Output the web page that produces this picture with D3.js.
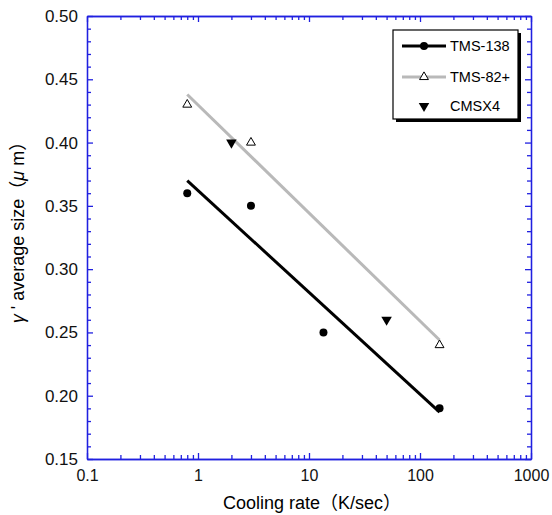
<!DOCTYPE html>
<html>
<head>
  <script src="https://d3js.org/d3.v7.min.js"></script>
  <style>
    body { margin: 0; background: #fff; }
    svg { display: block; }
  </style>
</head>
<body>
  <svg id="chart"></svg>
  <script>
    // data
    var tms138X = [0.8, 3, 13.5, 150];
    var tms138Y = [0.36, 0.35, 0.25, 0.19];
    var tms82X = [0.8, 3, 150];
    var tms82Y = [0.43, 0.40, 0.24];
    var cmsxX = [2, 50];
    var cmsxY = [0.40, 0.26];
    // fitted lines (end points)
    var fit138X = [0.8, 150];
    var fit138Y = [0.370, 0.187];
    var fit82X = [0.8, 150];
    var fit82Y = [0.438, 0.244];

    var xTicks = [0.1, 1, 10, 100, 1000];
    var yTicks = [0.15, 0.20, 0.25, 0.30, 0.35, 0.40, 0.45, 0.50];

    var width = 552, height = 515;
    var margin = { top: 16, right: 21, bottom: 56, left: 87 };
    var axisColor = "#2020e0";
    var latin = "Liberation Sans, Arial, Noto Sans CJK JP, sans-serif";

    var svg = d3.select("#chart")
      .attr("width", width)
      .attr("height", height);

    var x = d3.scaleLog().domain([0.1, 1000]).range([margin.left, width - margin.right]);
    var y = d3.scaleLinear().domain([0.15, 0.50]).range([height - margin.bottom, margin.top]);

    // minor ticks
    var xMinor = [];
    xTicks.slice(0, -1).forEach(function(d) {
      for (var k = 2; k <= 9; k++) xMinor.push(d * k);
    });
    var yMinor = d3.range(15, 51).map(d => d / 100).filter(d => yTicks.indexOf(d) < 0);

    function styleAxis(size) {
      return function(g) {
        g.selectAll("path, line").attr("stroke", axisColor).attr("stroke-width", 1.3);
        g.selectAll("text")
          .attr("fill", "#111")
          .style("font-family", latin)
          .style("font-size", size + "px");
      };
    }

    var x0 = y.range()[0], y0 = x.range()[0];

    // bottom axis
    svg.append("g")
      .attr("transform", "translate(0," + x0 + ")")
      .call(d3.axisBottom(x).tickValues(xTicks).tickFormat(d3.format("")).tickSizeInner(-6).tickSizeOuter(0).tickPadding(11))
      .call(styleAxis(16));
    svg.append("g")
      .attr("transform", "translate(0," + x0 + ")")
      .call(d3.axisBottom(x).tickValues(xMinor).tickFormat("").tickSizeInner(-4).tickSizeOuter(0))
      .call(styleAxis(16));
    // top axis
    svg.append("g")
      .attr("transform", "translate(0," + margin.top + ")")
      .call(d3.axisTop(x).tickValues(xTicks).tickFormat("").tickSizeInner(-6).tickSizeOuter(0))
      .call(styleAxis(16));
    svg.append("g")
      .attr("transform", "translate(0," + margin.top + ")")
      .call(d3.axisTop(x).tickValues(xMinor).tickFormat("").tickSizeInner(-4).tickSizeOuter(0))
      .call(styleAxis(16));
    // left axis
    svg.append("g")
      .attr("transform", "translate(" + y0 + ",0)")
      .call(d3.axisLeft(y).tickValues(yTicks).tickFormat(d3.format(".2f")).tickSizeInner(-6).tickSizeOuter(0).tickPadding(9))
      .call(styleAxis(17));
    svg.append("g")
      .attr("transform", "translate(" + y0 + ",0)")
      .call(d3.axisLeft(y).tickValues(yMinor).tickFormat("").tickSizeInner(-4).tickSizeOuter(0))
      .call(styleAxis(17));
    // right axis
    svg.append("g")
      .attr("transform", "translate(" + x.range()[1] + ",0)")
      .call(d3.axisRight(y).tickValues(yTicks).tickFormat("").tickSizeInner(-6).tickSizeOuter(0))
      .call(styleAxis(16));
    svg.append("g")
      .attr("transform", "translate(" + x.range()[1] + ",0)")
      .call(d3.axisRight(y).tickValues(yMinor).tickFormat("").tickSizeInner(-4).tickSizeOuter(0))
      .call(styleAxis(16));

    // fitted lines
    var line = d3.line().x(d => x(d[0])).y(d => y(d[1]));
    svg.append("path")
      .datum(d3.zip(fit82X, fit82Y))
      .attr("d", line)
      .attr("fill", "none")
      .attr("stroke", "#b9b9b9")
      .attr("stroke-width", 3);
    svg.append("path")
      .datum(d3.zip(fit138X, fit138Y))
      .attr("d", line)
      .attr("fill", "none")
      .attr("stroke", "#000")
      .attr("stroke-width", 3);

    // markers
    var triUp = d3.symbol().type(d3.symbolTriangle).size(34);
    var triDown = d3.symbol().type(d3.symbolTriangle).size(48);

    svg.selectAll(".p138")
      .data(d3.zip(tms138X, tms138Y))
      .enter().append("circle")
      .attr("cx", d => x(d[0]))
      .attr("cy", d => y(d[1]))
      .attr("r", 4)
      .attr("fill", "#000");

    svg.selectAll(".p82")
      .data(d3.zip(tms82X, tms82Y))
      .enter().append("path")
      .attr("d", triUp)
      .attr("transform", d => "translate(" + x(d[0]) + "," + y(d[1]) + ")")
      .attr("fill", "#fff")
      .attr("stroke", "#000")
      .attr("stroke-width", 1);

    svg.selectAll(".pcmsx")
      .data(d3.zip(cmsxX, cmsxY))
      .enter().append("path")
      .attr("d", triDown)
      .attr("transform", d => "translate(" + x(d[0]) + "," + y(d[1]) + ") rotate(180)")
      .attr("fill", "#000");

    // legend
    var lg = svg.append("g").attr("transform", "translate(393,30)");
    lg.append("rect").attr("x", 3).attr("y", 3).attr("width", 125).attr("height", 89).attr("fill", "#000");
    lg.append("rect").attr("width", 125).attr("height", 89).attr("fill", "#fff").attr("stroke", "#000").attr("stroke-width", 1.2);

    var rows = [
      { name: "TMS-138", y: 16 },
      { name: "TMS-82+", y: 47 },
      { name: "CMSX4", y: 76 }
    ];
    lg.append("line").attr("x1", 9).attr("x2", 53).attr("y1", rows[0].y).attr("y2", rows[0].y).attr("stroke", "#000").attr("stroke-width", 3);
    lg.append("circle").attr("cx", 31).attr("cy", rows[0].y).attr("r", 4).attr("fill", "#000");
    lg.append("line").attr("x1", 9).attr("x2", 53).attr("y1", rows[1].y).attr("y2", rows[1].y).attr("stroke", "#b9b9b9").attr("stroke-width", 3);
    lg.append("path").attr("d", triUp).attr("transform", "translate(31," + rows[1].y + ")").attr("fill", "#fff").attr("stroke", "#000");
    lg.append("path").attr("d", triDown).attr("transform", "translate(31," + rows[2].y + ") rotate(180)").attr("fill", "#000");

    lg.selectAll(".lt")
      .data(rows)
      .enter().append("text")
      .attr("x", 57)
      .attr("y", d => d.y)
      .attr("dy", "0.35em")
      .style("font-family", latin)
      .style("font-size", "14.5px")
      .text(d => d.name);

    // axis titles
    svg.append("text")
      .attr("x", 312)
      .attr("y", 509)
      .attr("text-anchor", "middle")
      .style("font-family", latin)
      .style("font-size", "18px")
      .text("Cooling rate（K/sec）");

    var yt = svg.append("text")
      .attr("transform", "translate(24,228) rotate(-90)")
      .attr("text-anchor", "middle")
      .style("font-family", latin)
      .style("font-size", "18px");
    yt.append("tspan").style("font-style", "italic").text("γ");
    yt.append("tspan").text(" ' average size（");
    yt.append("tspan").style("font-style", "italic").text("μ");
    yt.append("tspan").text(" m）");
  </script>
</body>
</html>
